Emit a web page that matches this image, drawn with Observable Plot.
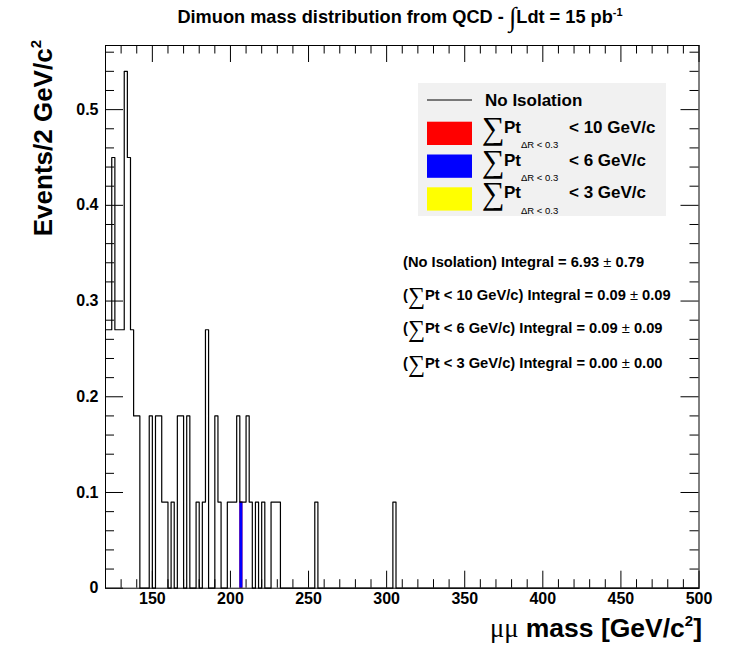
<!DOCTYPE html>
<html><head><meta charset="utf-8">
<script src="https://cdn.jsdelivr.net/npm/d3@7"></script>
<script src="https://cdn.jsdelivr.net/npm/@observablehq/plot@0.6"></script>
<style>
body{margin:0;background:#fff;}
#wrap{position:relative;width:729px;height:660px;overflow:hidden;}
#strip{position:absolute;left:0;top:83px;width:16px;height:325px;background:#fffbe0;}
#wrap svg{position:absolute;left:0;top:0;}
</style></head><body><div id="wrap"><div id="strip"></div></div>
<script>
// ---- data ----
const binWidth = 2;               // GeV/c^2
const xMin = 120, xMax = 500;
// lower edges of non-empty bins (No Isolation) and their contents (Events / 2 GeV/c^2)
const binLow = [120,122,124,126,128,130,132,134,136,138,140,148,152,154,156,158,162,166,168,172,178,182,184,190,192,198,200,202,204,206,208,210,212,216,220,226,228,230,254,304];
const content = [0.27,0.27,0.45,0.27,0.27,0.27,0.54,0.45,0.27,0.18,0.18,0.18,0.18,0.18,0.09,0.09,0.09,0.18,0.18,0.18,0.09,0.09,0.27,0.18,0.09,0.09,0.09,0.09,0.18,0.09,0.09,0.18,0.09,0.09,0.09,0.09,0.09,0.09,0.09,0.09];
// isolated selections
const iso10Low = [206], iso10Content = [0.09];
const iso6Low = [206], iso6Content = [0.09];
const iso3Low = [], iso3Content = [];
const xMajor = [150,200,250,300,350,400,450,500];
const xMinor = [130,140,160,170,180,190,210,220,230,240,260,270,280,290,310,320,330,340,360,370,380,390,410,420,430,440,460,470,480,490];
const yMajor = [0,0.1,0.2,0.3,0.4,0.5];
const yMinor = [0.02,0.04,0.06,0.08,0.12,0.14,0.16,0.18,0.22,0.24,0.26,0.28,0.32,0.34,0.36,0.38,0.42,0.44,0.46,0.48,0.52,0.54,0.56];
const yMax = 0.567;
const integrals = [
  {label:"(No Isolation) Integral = 6.93", sum:false, err:"0.79"},
  {label:"Pt < 10 GeV/c) Integral = 0.09", sum:true, err:"0.09"},
  {label:"Pt < 6 GeV/c) Integral = 0.09", sum:true, err:"0.09"},
  {label:"Pt < 3 GeV/c) Integral = 0.00", sum:true, err:"0.00"}
];
const legendRows = [
  {label:"< 10 GeV/c", color:"#ff0000"},
  {label:"< 6 GeV/c", color:"#0000ff"},
  {label:"< 3 GeV/c", color:"#ffff00"}
];

// ---- build histogram ----
const nBins = (xMax - xMin) / binWidth;
const values = d3.range(nBins).map(k => {
  const i = binLow.indexOf(xMin + k*binWidth);
  return i >= 0 ? content[i] : 0;
});
const outline = values.map((v,k) => ({x: xMin + k*binWidth, y: v}));
outline.push({x: xMax, y: values[nBins-1]});
const toRects = (lows, vals) => lows.map((l,i) => ({x1:l, x2:l+binWidth, y:vals[i]}));

const W = 729, H = 660, mL = 105, mR = 30.5, mT = 45, mB = 72.3;
const fw = W - mL - mR, fh = H - mT - mB;
const font = "'Liberation Sans', Arial, sans-serif";

const chart = Plot.plot({
  width: W, height: H,
  marginLeft: mL, marginRight: mR, marginTop: mT, marginBottom: mB,
  style: {fontFamily: font, background: "white", overflow: "visible"},
  x: {domain: [xMin, xMax], axis: null},
  y: {domain: [0, yMax], axis: null},
  marks: [
    Plot.rectY(toRects(iso10Low, iso10Content), {x1:"x1", x2:"x2", y:"y", fill:"#ff0000"}),
    Plot.rectY(toRects(iso6Low, iso6Content), {x1:"x1", x2:"x2", y:"y", fill:"#0000ff"}),
    Plot.rectY(toRects(iso3Low, iso3Content), {x1:"x1", x2:"x2", y:"y", fill:"#ffff00"}),
    Plot.line(outline, {x:"x", y:"y", curve:"step-after", stroke:"black", strokeWidth:1.2}),
    // ticks inside on all four sides
    Plot.tickX(xMajor, {x:d=>d, insetTop: fh-17, stroke:"black"}),
    Plot.tickX(xMinor, {x:d=>d, insetTop: fh-8.5, stroke:"black"}),
    Plot.tickX(xMajor, {x:d=>d, insetBottom: fh-17, stroke:"black"}),
    Plot.tickX(xMinor, {x:d=>d, insetBottom: fh-8.5, stroke:"black"}),
    Plot.tickY(yMajor, {y:d=>d, insetRight: fw-18, stroke:"black"}),
    Plot.tickY(yMinor, {y:d=>d, insetRight: fw-9, stroke:"black"}),
    Plot.tickY(yMajor, {y:d=>d, insetLeft: fw-18, stroke:"black"}),
    Plot.tickY(yMinor, {y:d=>d, insetLeft: fw-9, stroke:"black"}),
    Plot.frame({stroke:"black"}),
    Plot.text(xMajor, {x:d=>d, frameAnchor:"bottom", dy:15.3, text:d=>String(d), fontSize:16, fontWeight:"bold", fill:"black"}),
    Plot.text(yMajor, {y:d=>d, frameAnchor:"left", dx:-7, textAnchor:"end", text:d=>d===0?"0":d.toFixed(1), fontSize:16, fontWeight:"bold", fill:"black"})
  ]
});
document.getElementById("wrap").appendChild(chart);

// ---- annotations ----
const svg = d3.select(chart);
const g = svg.append("g").attr("font-family", font).attr("fill", "black").attr("text-anchor","start");

// title
const t = g.append("text").attr("x", 400).attr("y", 23).attr("text-anchor","middle")
  .attr("font-size", 18.2).attr("font-weight","bold");
t.append("tspan").text("Dimuon mass distribution from QCD - ");
t.append("tspan").attr("font-size", 27).attr("font-weight","normal").attr("font-family","'Liberation Serif', serif").attr("dy", 3).text("\u222B");
t.append("tspan").attr("dy", -3).text("Ldt = 15 pb");
t.append("tspan").attr("font-size", 11).attr("dy", -7).text("-1");

// y title
const yt = g.append("text").attr("transform","translate(52,40) rotate(-90)").attr("text-anchor","end")
  .attr("font-size", 26).attr("font-weight","bold");
yt.append("tspan").text("Events/2 GeV/c");
yt.append("tspan").attr("font-size", 15).attr("dy", -11).text("2");

// x title
const xt = g.append("text").attr("x", 702).attr("y", 637).attr("text-anchor","end")
  .attr("font-size", 26.5).attr("font-weight","bold");
xt.append("tspan").attr("font-family","'Liberation Serif', serif").attr("font-weight","normal").text("\u03BC\u03BC");
xt.append("tspan").text(" mass [GeV/c");
xt.append("tspan").attr("font-size", 15).attr("dy", -11).text("2");
xt.append("tspan").attr("dy", 11).text("]");

// legend
const lg = g.append("g");
lg.append("rect").attr("x",418).attr("y",83).attr("width",248).attr("height",133).attr("fill","#f1f1f1");
lg.append("line").attr("x1",427).attr("x2",472).attr("y1",100).attr("y2",100).attr("stroke","black");
lg.append("text").attr("x",485).attr("y",106).attr("font-size",17).attr("font-weight","bold").text("No Isolation");
legendRows.forEach((r, i) => {
  const y0 = 121.7 + i*32.8;
  lg.append("rect").attr("x",427).attr("y",y0).attr("width",45).attr("height",23.3).attr("fill",r.color);
  lg.append("text").attr("x",482).attr("y",y0+17).attr("font-size",32).attr("font-family","'Liberation Serif', serif").text("\u2211");
  lg.append("text").attr("x",504).attr("y",y0+11).attr("font-size",17).attr("font-weight","bold").text("Pt");
  lg.append("text").attr("x",521).attr("y",y0+26.5).attr("font-size",9.5).text("\u0394R < 0.3");
  lg.append("text").attr("x",569).attr("y",y0+11).attr("font-size",17).attr("font-weight","bold").text(r.label);
});

// integrals
const baseY = [267, 300, 333, 368];
integrals.forEach((d, i) => {
  const tx = g.append("text").attr("x",403).attr("y",baseY[i]).attr("font-size",14.7).attr("font-weight","bold");
  if (d.sum) {
    tx.append("tspan").text("(");
    tx.append("tspan").attr("font-size",24).attr("font-weight","normal").attr("font-family","'Liberation Serif', serif").attr("dy",4).text("\u2211");
    tx.append("tspan").attr("dy",-4).text(d.label);
  } else {
    tx.append("tspan").text(d.label);
  }
  tx.append("tspan").attr("font-weight","normal").text(" \u00B1 ");
  tx.append("tspan").text(d.err);
});
</script></body></html>
